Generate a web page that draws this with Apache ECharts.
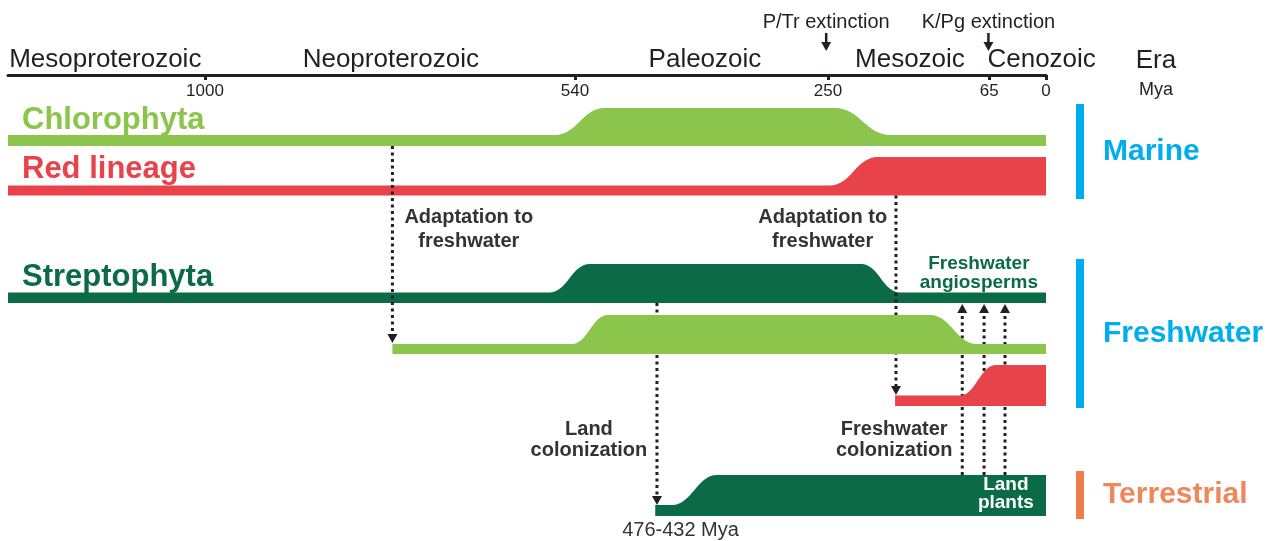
<!DOCTYPE html>
<html>
<head>
<meta charset="utf-8">
<script src="https://cdn.jsdelivr.net/npm/echarts@6/dist/echarts.min.js"></script>
<style>
html, body { margin: 0; padding: 0; background: #fff; }
#grafico { width: 1278px; height: 541px; }
</style>
</head>
<body>
<div id="grafico"></div>
<script>
// time axis (Mya)
var timeTicks = [1000, 540, 250, 65, 0];
var eraNames = ['Mesoproterozoic', 'Neoproterozoic', 'Paleozoic', 'Mesozoic', 'Cenozoic'];
var eraLabelAt = [1124, 769, 391, 156, 5];
var extinctionNames = ['P/Tr extinction', 'K/Pg extinction'];
var extinctionAt = [252, 66];

// ancestral lineages: [Mya, band thickness] knots, base = lane of the band bottom
var lineageNames = ['Chlorophyta', 'Red lineage', 'Streptophyta'];
var lineageBase = [7.1, 12.05, 22.8];
var lineageLevels = [
    [[1245, 1.1], [565, 1.1], [506, 3.8], [242, 3.8], [178, 1.1], [0, 1.1]],
    [[1245, 1.0], [248, 1.0], [193, 3.85], [0, 3.85]],
    [[1245, 1.05], [572, 1.05], [523, 3.9], [212, 3.9], [167, 1.05], [0, 1.05]]
];

// freshwater / land colonizers
var colonizerNames = ['Freshwater Chlorophyta', 'Freshwater red lineage', 'Land plants'];
var colonizerBase = [27.9, 33.1, 44.1];
var colonizerLevels = [
    [[767, 1.0], [544, 1.0], [502, 3.9], [133, 3.9], [79, 1.0], [0, 1.0]],
    [[173, 1.05], [99, 1.05], [57, 4.1], [0, 4.1]],
    [[448, 1.1], [429, 1.1], [377, 4.1], [0, 4.1]]
];

// dotted transition arrows
var arrowAt = [767, 172, 446, 96, 71, 47];
var arrowFrom = [7.1, 12.05, 22.8, 40.0, 40.0, 40.0];
var arrowTo = [26.8, 32.0, 43.0, 22.9, 22.9, 22.9];

// text notes
var noteTexts = ['Adaptation to\nfreshwater', 'Adaptation to\nfreshwater', 'Land\ncolonization',
    'Freshwater\ncolonization', 'Freshwater\nangiosperms', 'Land\nplants', '476-432 Mya'];
var noteAt = [672, 256, 524, 174, 77, 46, 419];
var noteLane = [15.4, 15.4, 36.45, 36.45, 19.85, 41.9, 45.5];

// habitats
var habitatNames = ['Marine', 'Freshwater', 'Terrestrial'];
var habitatFrom = [2.9, 18.4, 39.6];
var habitatTo = [12.4, 33.3, 44.4];

var FONT = '"Liberation Sans", Arial, Helvetica, sans-serif';
var INK = '#231F20';
var bandColors = ['#8CC54B', '#E8434B', '#0B6B47'];
var habitatColors = ['#00AEEF', '#00AEEF', '#EE7D4E'];
var habitatTextColors = ['#00AEEF', '#00AEEF', '#F0875A'];
var noteLook = [
    { color: '#333333', font: 'bold 20px ' + FONT, lh: 24 },
    { color: '#333333', font: 'bold 20px ' + FONT, lh: 24 },
    { color: '#333333', font: 'bold 20px ' + FONT, lh: 21 },
    { color: '#333333', font: 'bold 20px ' + FONT, lh: 21 },
    { color: '#0B6B47', font: 'bold 19px ' + FONT, lh: 19 },
    { color: '#ffffff', font: 'bold 19px ' + FONT, lh: 18 },
    { color: '#333333', font: '20px ' + FONT, lh: 22 }
];

// the reference squeezes the Proterozoic part of the timeline a little
function toAxis(t) { return t <= 540 ? t : 540 + (t - 540) * 0.922; }
function toMya(u) { return u <= 540 ? u : 540 + (u - 540) / 0.922; }

function idx(arr) { return arr.map(function (_, i) { return [i, 0]; }); }

function bandRenderer(names, bases, levels, withLabel) {
    return function (params, api) {
        var i = params.dataIndex;
        var knots = levels[i];
        var base = bases[i];
        var top = knots.map(function (k) { return api.coord([toAxis(k[0]), base - k[1]]); });
        var d = 'M' + top[0][0] + ' ' + top[0][1];
        for (var k = 1; k < top.length; k++) {
            var a = top[k - 1], b = top[k];
            if (Math.abs(a[1] - b[1]) < 0.5) {
                d += ' L' + b[0] + ' ' + b[1];
            } else {
                var dx = b[0] - a[0];
                d += ' C' + (a[0] + dx * 0.45) + ' ' + a[1] + ' ' + (b[0] - dx * 0.45) + ' ' + b[1] +
                    ' ' + b[0] + ' ' + b[1];
            }
        }
        var endPt = api.coord([toAxis(knots[knots.length - 1][0]), base]);
        var startPt = api.coord([toAxis(knots[0][0]), base]);
        d += ' L' + endPt[0] + ' ' + endPt[1] + ' L' + startPt[0] + ' ' + startPt[1] + ' Z';
        var children = [{ type: 'path', shape: { pathData: d }, style: { fill: bandColors[i] } }];
        if (withLabel) {
            children.push({
                type: 'text',
                style: {
                    text: names[i], x: startPt[0] + 14, y: startPt[1] - 26,
                    fill: bandColors[i], font: 'bold 31px ' + FONT, align: 'left', verticalAlign: 'middle'
                }
            });
        }
        return { type: 'group', children: children };
    };
}

function arrowItem(params, api) {
    var i = params.dataIndex;
    var u = toAxis(arrowAt[i]);
    var p0 = api.coord([u, arrowFrom[i]]);
    var p1 = api.coord([u, arrowTo[i]]);
    var dir = p1[1] > p0[1] ? 1 : -1;
    var head = 9;
    return {
        type: 'group',
        children: [
            { type: 'line', shape: { x1: p0[0], y1: p0[1], x2: p1[0], y2: p1[1] - dir * head },
              style: { stroke: INK, lineWidth: 3, lineDash: [3, 3.5] } },
            { type: 'polygon', shape: { points: [[p1[0] - 5, p1[1] - dir * head], [p1[0] + 5, p1[1] - dir * head], [p1[0], p1[1]]] },
              style: { fill: INK } }
        ]
    };
}

function eraItem(params, api) {
    var i = params.dataIndex;
    var p = api.coord([toAxis(eraLabelAt[i]), 0]);
    return { type: 'text', style: { text: eraNames[i], x: p[0], y: p[1] - 15, fill: INK,
        font: '26px ' + FONT, align: 'center', verticalAlign: 'middle' } };
}

function extinctionItem(params, api) {
    var i = params.dataIndex;
    var p = api.coord([toAxis(extinctionAt[i]), 0]);
    var x = p[0], y0 = p[1];
    return {
        type: 'group',
        children: [
            { type: 'text', style: { text: extinctionNames[i], x: x, y: y0 - 53, fill: INK,
                font: '20px ' + FONT, align: 'center', verticalAlign: 'middle' } },
            { type: 'line', shape: { x1: x, y1: y0 - 42, x2: x, y2: y0 - 32 },
              style: { stroke: INK, lineWidth: 2.5 } },
            { type: 'polygon', shape: { points: [[x - 5, y0 - 33], [x + 5, y0 - 33], [x, y0 - 24]] },
              style: { fill: INK } }
        ]
    };
}

function habitatItem(params, api) {
    var i = params.dataIndex;
    var a = api.coord([0, habitatFrom[i]]);
    var b = api.coord([0, habitatTo[i]]);
    return {
        type: 'group',
        children: [
            { type: 'rect', shape: { x: a[0] + 30, y: a[1], width: 8, height: b[1] - a[1] },
              style: { fill: habitatColors[i] } },
            { type: 'text', style: { text: habitatNames[i], x: a[0] + 57, y: (a[1] + b[1]) / 2,
                fill: habitatTextColors[i], font: 'bold 30px ' + FONT, align: 'left', verticalAlign: 'middle' } }
        ]
    };
}

function noteItem(params, api) {
    var i = params.dataIndex;
    var p = api.coord([toAxis(noteAt[i]), noteLane[i]]);
    var look = noteLook[i];
    return { type: 'text', style: { text: noteTexts[i], x: p[0], y: p[1], fill: look.color,
        font: look.font, lineHeight: look.lh, align: 'center', verticalAlign: 'middle' } };
}

var tickAxis = timeTicks.map(toAxis);

option = {
    backgroundColor: '#ffffff',
    animation: false,
    grid: { left: 8, right: 232, top: 75, bottom: 16, outerBoundsMode: 'none' },
    xAxis: {
        type: 'value',
        position: 'top',
        inverse: true,
        min: 0,
        max: 1190,
        axisLine: { show: true, lineStyle: { color: INK, width: 3 } },
        axisTick: { show: true, inside: true, length: 5, customValues: tickAxis, lineStyle: { color: INK, width: 3 } },
        axisLabel: {
            show: true, inside: true, margin: 8, customValues: tickAxis,
            color: INK, fontSize: 17, fontFamily: FONT,
            formatter: function (v) { return String(Math.round(toMya(v))); }
        },
        splitLine: { show: false },
        name: '{era|Era}\n{mya|Mya}',
        nameLocation: 'start',
        nameGap: 110,
        nameTextStyle: {
            align: 'center', verticalAlign: 'middle',
            rich: {
                era: { fontSize: 26, fontFamily: FONT, color: INK, lineHeight: 31, align: 'center' },
                mya: { fontSize: 18, fontFamily: FONT, color: INK, lineHeight: 29, align: 'center' }
            }
        }
    },
    yAxis: { type: 'value', inverse: true, min: 0, max: 45, show: false },
    series: [
        { type: 'custom', name: 'lineages', z: 2, clip: false, silent: true,
          data: idx(lineageNames), renderItem: bandRenderer(lineageNames, lineageBase, lineageLevels, true) },
        { type: 'custom', name: 'transitions', z: 3, clip: false, silent: true,
          data: idx(arrowAt), renderItem: arrowItem },
        { type: 'custom', name: 'colonizers', z: 4, clip: false, silent: true,
          data: idx(colonizerNames), renderItem: bandRenderer(colonizerNames, colonizerBase, colonizerLevels, false) },
        { type: 'custom', name: 'eras', z: 5, clip: false, silent: true,
          data: idx(eraNames), renderItem: eraItem },
        { type: 'custom', name: 'extinctions', z: 5, clip: false, silent: true,
          data: idx(extinctionNames), renderItem: extinctionItem },
        { type: 'custom', name: 'habitats', z: 5, clip: false, silent: true,
          data: idx(habitatNames), renderItem: habitatItem },
        { type: 'custom', name: 'notes', z: 6, clip: false, silent: true,
          data: idx(noteTexts), renderItem: noteItem }
    ]
};

var myChart = echarts.init(document.getElementById('grafico'));
myChart.setOption(option, true);
</script>
</body>
</html>
